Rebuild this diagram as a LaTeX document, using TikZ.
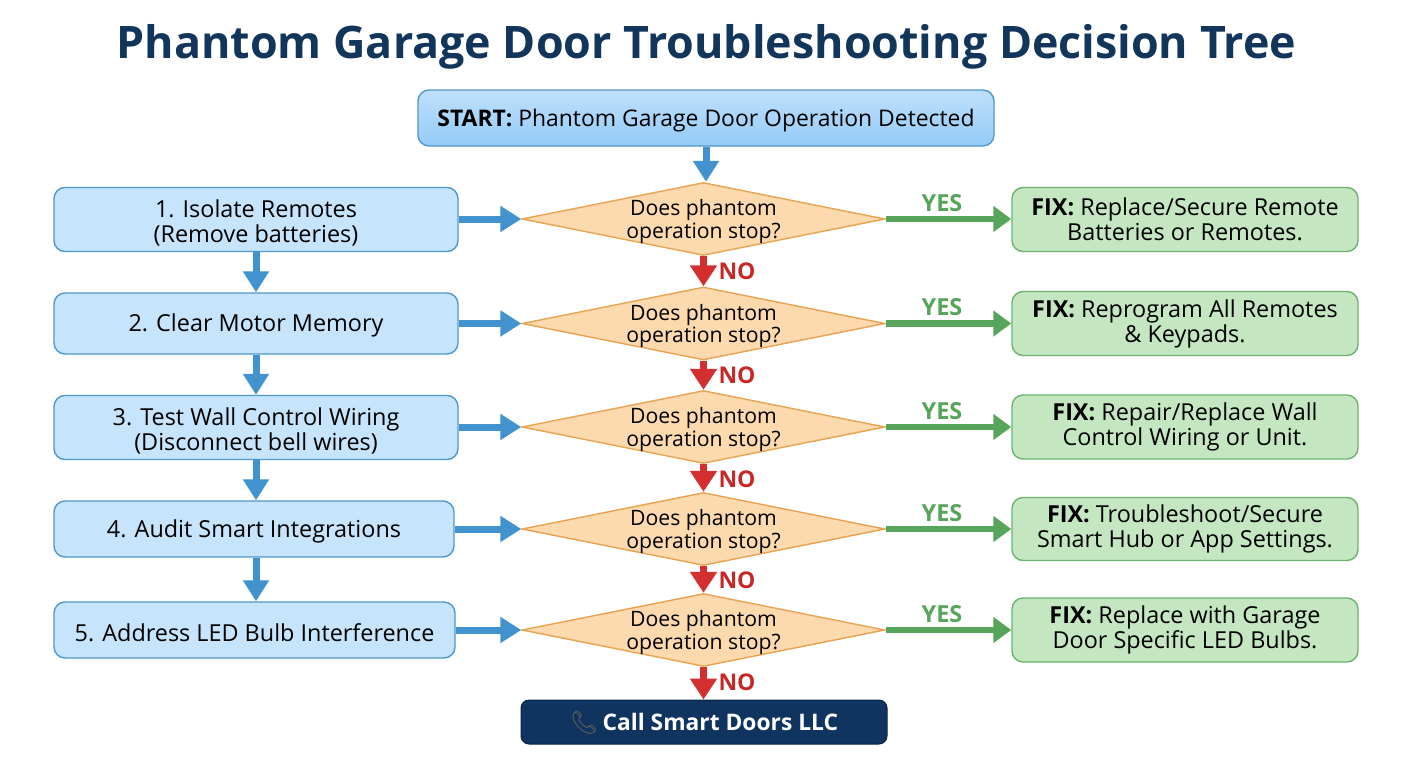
\documentclass[tikz,border=0pt]{standalone}
\usepackage{fontspec}
\usetikzlibrary{shapes.geometric,arrows.meta,calc}
\setmainfont{Open Sans}
\newfontfamily\titlefont{Open Sans}
\newfontfamily\emojifont{Noto Emoji}
\newcommand{\gapA}{\rule{0pt}{24pt}}
\definecolor{titlecol}{HTML}{12355B}
\definecolor{bluearrow}{HTML}{4292CE}
\definecolor{blueedge}{HTML}{4F97CC}
\definecolor{bluefill}{HTML}{C6E4FB}
\definecolor{greenarrow}{HTML}{57A55A}
\definecolor{greenedge}{HTML}{6DB36F}
\definecolor{greenfill}{HTML}{C4E6C1}
\definecolor{redarrow}{HTML}{D32F2F}
\definecolor{rednote}{HTML}{C62828}
\definecolor{orangeedge}{HTML}{E9A24F}
\definecolor{orangefill}{HTML}{FDD9AE}
\definecolor{navy}{HTML}{0F3460}
\definecolor{phonecol}{HTML}{6A6557}
\definecolor{startlow}{HTML}{93CBF8}
\definecolor{starttop}{HTML}{BFE0FB}
\tikzset{
  body/.style={font=\fontsize{23.4}{25}\selectfont, text=black, align=center},
  stepbox/.style={body, draw=blueedge, fill=bluefill, line width=1.4pt, rounded corners=11pt, inner sep=0pt},
  startbox/.style={stepbox, top color=starttop, bottom color=startlow, draw=blueedge, font=\fontsize{22.9}{25}\selectfont},
  fixbox/.style={body, draw=greenedge, fill=greenfill, line width=1.4pt, rounded corners=11pt, inner sep=0pt},
  decide/.style={body, diamond, draw=orangeedge, fill=orangefill, line width=1.4pt, shape aspect=5, inner xsep=-30pt, inner ysep=-12pt, minimum width=363pt, minimum height=73pt, font=\fontsize{21.2}{22.5}\selectfont},
  endbox/.style={draw=navy!70!black, fill=navy, rounded corners=8pt, line width=1pt, text=white, inner sep=0pt, font=\fontsize{22.8}{24}\selectfont\bfseries},
  flowblue/.style={draw=bluearrow, line width=7pt, -{Triangle[length=21pt,width=25pt]}},
  flowgreen/.style={draw=greenarrow, line width=6.5pt, -{Triangle[length=18pt,width=25pt]}},
  flowred/.style={draw=redarrow, line width=7pt, -{Triangle[length=21pt,width=26pt]}},
  yesmark/.style={text=greenarrow, font=\fontsize{23.5}{23.5}\selectfont\bfseries},
  nomark/.style={text=rednote, font=\fontsize{23}{23}\selectfont\bfseries}
}
\begin{document}
\begin{tikzpicture}[x=1pt,y=-1pt]
\useasboundingbox (0,0) rectangle (1408,768);
\node[text=titlecol, font=\titlefont\fontsize{44.8}{46}\selectfont\bfseries] (title) at (706.5,47) {Phantom Garage Door Troubleshooting Decision Tree};
\node[startbox, minimum width=576pt, minimum height=56pt] (start) at (706,118) {\rule{0pt}{23.5pt}\textbf{START:} Phantom Garage Door Operation Detected};

\foreach \n/\yy in {1/219,2/323.5,3/427,4/529,5/630}{
  \node[decide] (d\n) at (703.5,\yy) {\rule{0pt}{21pt}Does phantom\\operation stop?};
}
\node[stepbox, minimum width=404pt, minimum height=64pt] (l1) at (256,219.5) {\gapA 1. Isolate Remotes\\(Remove batteries)};
\node[stepbox, minimum width=404pt, minimum height=61pt] (l2) at (256,323.5) {\rule{0pt}{22.5pt}2. Clear Motor Memory};
\node[stepbox, minimum width=404pt, minimum height=64pt] (l3) at (256,427.5) {\gapA 3. Test Wall Control Wiring\\(Disconnect bell wires)};
\node[stepbox, minimum width=400pt, minimum height=56pt] (l4) at (254,529) {\rule{0pt}{22.5pt}4. Audit Smart Integrations};
\node[stepbox, minimum width=401pt, minimum height=56pt] (l5) at (254.5,630) {\rule{0pt}{22.5pt}5. Address LED Bulb Interference};

\node[fixbox, minimum width=346pt, minimum height=64pt] (r1) at (1185,219.5) {\textbf{FIX:} Replace/Secure Remote\\Batteries or Remotes.};
\node[fixbox, minimum width=346pt, minimum height=64pt] (r2) at (1185,323.5) {\textbf{FIX:} Reprogram All Remotes\\\& Keypads.};
\node[fixbox, minimum width=346pt, minimum height=64pt] (r3) at (1185,427) {\textbf{FIX:} Repair/Replace Wall\\Control Wiring or Unit.};
\node[fixbox, minimum width=346pt, minimum height=63pt] (r4) at (1185,529) {\textbf{FIX:} Troubleshoot/Secure\\Smart Hub or App Settings.};
\node[fixbox, minimum width=346pt, minimum height=64pt] (r5) at (1185,630) {\textbf{FIX:} Replace with Garage\\Door Specific LED Bulbs.};

\node[endbox, minimum width=366pt, minimum height=44pt] (final) at (704,722) {\rule{0pt}{21pt}{\emojifont\color{phonecol}\symbol{"1F4DE}}\,Call Smart Doors LLC};

\draw[flowblue] (start.south) -- (start.south |- d1.north);
\foreach \n in {1,...,5}{
  \draw[flowblue] (l\n.east |- d\n.west) -- (d\n.west);
  \draw[flowgreen] (d\n.east) -- (r\n.west |- d\n.east);
}
\draw[flowblue] (l1.south) -- (l2.north);
\draw[flowblue] (l2.south) -- (l3.north);
\draw[flowblue] (l3.south) -- (l3.south |- l4.north);
\draw[flowblue] (l3.south |- l4.south) -- (l3.south |- l5.north);
\draw[flowred] (d1.south) -- (d2.north);
\draw[flowred] (d2.south) -- (d3.north);
\draw[flowred] (d3.south) -- (d4.north);
\draw[flowred] (d4.south) -- (d5.north);
\draw[flowred] (d5.south) -- (d5.south |- final.north);

\foreach \n/\yy in {1/203,2/307,3/411,4/513,5/614}{
  \node[yesmark] (yes\n) at (942,\yy) {YES};
}
\foreach \n/\yy in {1/271,2/375,3/479,4/580,5/682}{
  \node[nomark] (no\n) at (737,\yy) {NO};
}
\end{tikzpicture}
\end{document}
